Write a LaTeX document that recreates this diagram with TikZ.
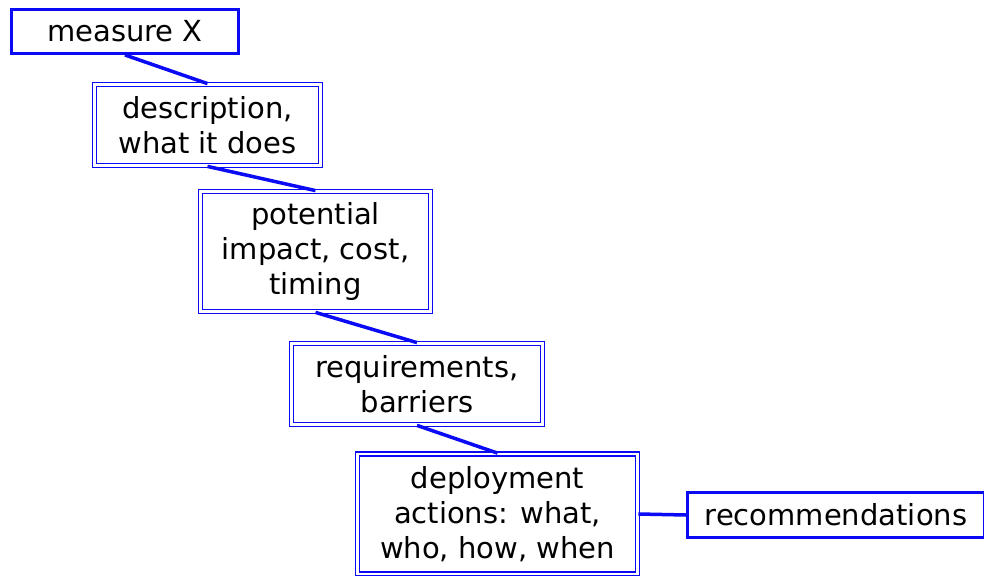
\documentclass[tikz,border=0pt]{standalone}
\usepackage{fontspec}
\setmainfont{DejaVu Sans}
\definecolor{bl}{RGB}{10,10,245}
\tikzset{
  dbox/.style={draw=bl, double, double distance=2.2pt, line width=1.8pt, inner sep=0pt, align=center, font=\fontsize{29}{35}\selectfont},
  sbox/.style={draw=bl, line width=3pt, inner sep=0pt, align=center, font=\fontsize{29}{35}\selectfont},
  conn/.style={draw=bl, line width=3.5pt}
}
\begin{document}
\begin{tikzpicture}[x=1pt,y=-1pt]
\useasboundingbox (0,0) rectangle (984,575);
\node[sbox, minimum width=227pt, minimum height=44pt] (mx) at (125,31.5) {measure X};
\node[dbox, minimum width=226pt, minimum height=81pt] (desc) at (207.5,125) {description,\\what it does};
\node[dbox, minimum width=230pt, minimum height=120pt] (pot) at (315.5,251.5) {potential\\impact, cost,\\timing};
\node[dbox, minimum width=251pt, minimum height=81pt] (req) at (417,384) {requirements,\\barriers};
\node[dbox, minimum width=280pt, minimum height=120pt] (dep) at (497.5,514) {deployment\\actions: what,\\who, how, when};
\node[sbox, minimum width=297pt, minimum height=45pt] (rec) at (836,515) {recommendations};
\draw[conn] (mx.south) -- (desc.north);
\draw[conn] (desc.south) -- (pot.north);
\draw[conn] (pot.south) -- (req.north);
\draw[conn] (req.south) -- (dep.north);
\draw[conn] (dep.east) -- (rec.west);
\end{tikzpicture}
\end{document}
